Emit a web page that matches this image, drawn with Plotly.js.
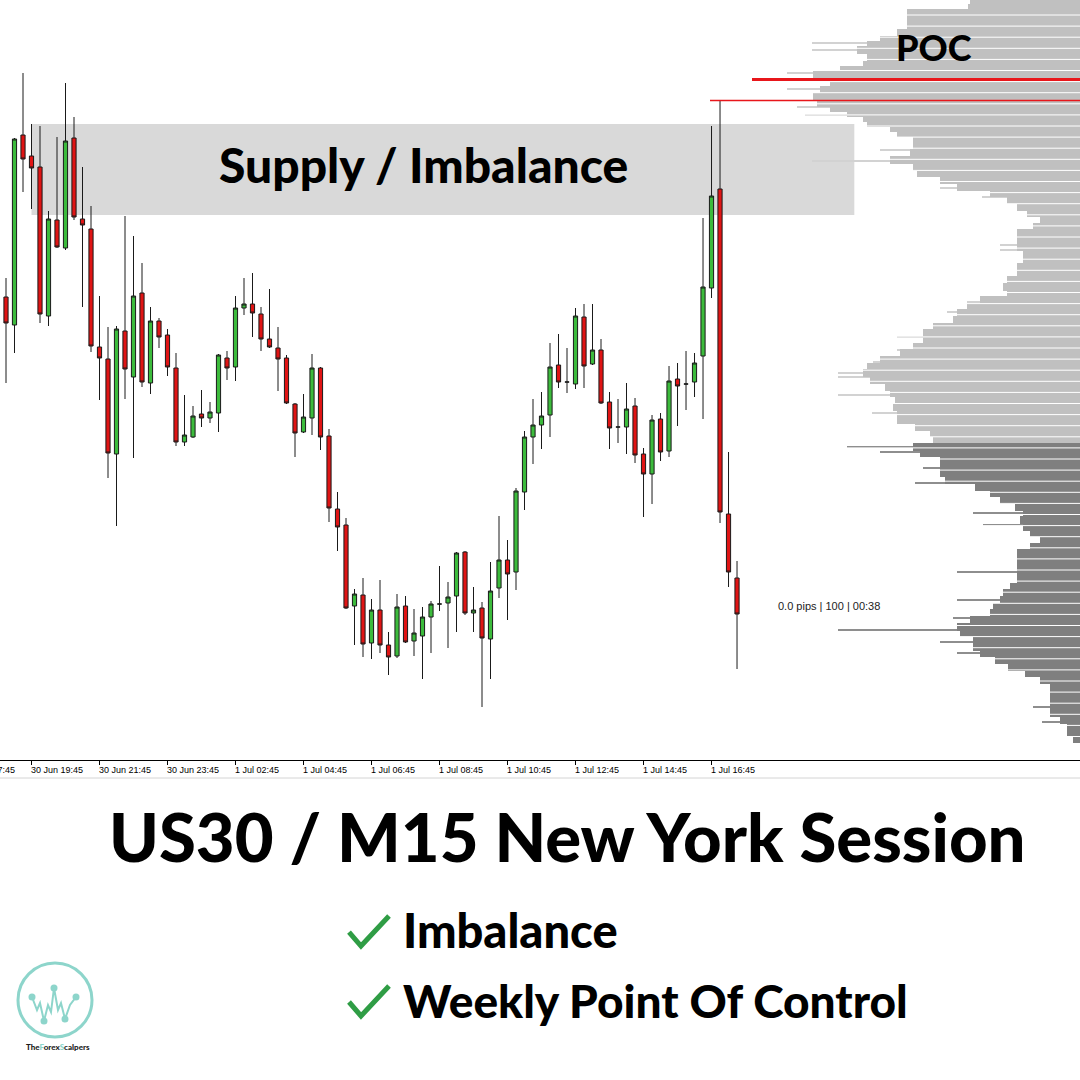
<!DOCTYPE html>
<html><head><meta charset="utf-8">
<script src="https://cdn.plot.ly/plotly-3.0.1.min.js"></script>
<style>html,body{margin:0;padding:0;background:#fff}#chart{width:1080px;height:1080px}</style>
</head><body><div id="chart"></div>
<script>
// ---- US30 M15 candles (30 Jun 19:00 -> 1 Jul 17:30) ----
const open = [34703,34675,34865,34844,34833,34684,34780,34752,34862,34781,
34771,34653,34641,34546,34669,34623,34707,34617,34679,34665,
34632,34558,34563,34586,34582,34587,34642,34633,34692,34696,
34686,34661,34652,34642,34596,34568,34582,34632,34564,34491,
34475,34394,34405,34357,34390,34355,34344,34394,34359,34364,
34383,34396,34397,34404,34448,34387,34392,34361,34412,34440,
34428,34508,34563,34575,34585,34635,34618,34616,34683,34636,
34650,34598,34573,34573,34594,34546,34526,34581,34549,34621,
34616,34618,34644,34712,34811,34486,34422];
const high = [34722,34862,34927,34876,34874,34789,34863,34917,34883,34833,
34794,34704,34673,34674,34784,34764,34737,34693,34682,34671,
34647,34605,34594,34610,34598,34646,34649,34704,34722,34727,
34693,34711,34673,34645,34597,34606,34646,34633,34571,34508,
34482,34411,34422,34401,34420,34368,34406,34404,34391,34393,
34399,34434,34418,34448,34449,34413,34398,34438,34484,34460,
34512,34569,34601,34608,34657,34666,34652,34692,34696,34696,
34661,34608,34601,34617,34602,34552,34585,34587,34634,34637,
34649,34647,34782,34874,34900,34548,34439];
const low = [34617,34647,34808,34791,34677,34674,34752,34750,34780,34693,
34648,34600,34522,34474,34601,34542,34613,34606,34652,34624,
34554,34554,34562,34573,34577,34568,34620,34619,34685,34663,
34649,34652,34609,34596,34543,34567,34565,34550,34478,34449,
34391,34355,34343,34341,34347,34325,34342,34357,34344,34321,
34347,34389,34352,34368,34385,34368,34293,34321,34402,34380,
34410,34490,34536,34551,34563,34612,34607,34611,34612,34635,
34596,34551,34557,34546,34537,34483,34496,34539,34543,34574,
34590,34603,34581,34702,34477,34413,34331];
const close = [34677,34861,34841,34832,34686,34781,34753,34859,34783,34775,
34654,34642,34547,34671,34631,34704,34618,34679,34663,34633,
34558,34565,34584,34582,34588,34645,34632,34692,34696,34687,
34661,34653,34641,34597,34567,34583,34632,34563,34492,34473,
34392,34406,34356,34390,34355,34343,34393,34358,34367,34383,
34396,34396,34403,34447,34387,34390,34362,34409,34440,34426,
34509,34563,34575,34584,34633,34618,34618,34684,34634,34650,
34597,34572,34573,34591,34545,34526,34580,34548,34619,34614,
34616,34637,34713,34804,34488,34428,34386];

// x-axis time labels (bar index -> label)
const tickIdx  = [-5, 3, 11, 19, 27, 35, 43, 51, 59, 67, 75, 83];
const tickText = ['30 Jun 17:45','30 Jun 19:45','30 Jun 21:45','30 Jun 23:45','1 Jul 02:45','1 Jul 04:45',
                  '1 Jul 06:45','1 Jul 08:45','1 Jul 10:45','1 Jul 12:45','1 Jul 14:45','1 Jul 16:45'];

// ---- Volume profile (price level -> volume) ----
const vpUpperPrice = [34996,34992,34987,34982,34977,34972,34967,34960,34955,34950,34945,34940,34935,34930,34925,34917,34910,34903,34897,34892,34887,34882,34877,34872,34867,34860,34853,34847,34840,34833,34827,34820,34813,34807,34800,34793,34787,34780,34773,34767,34760,34753,34747,34740,34733,34727,34720,34713,34707,34700,34693,34687,34680,34673,34667,34660,34653,34647,34640,34633,34627,34620,34613,34607,34600,34593,34587,34580,34573,34567,34560];
const vpUpperVol   = [110,112,173,173,173,173,183,200,213,223,213,213,217,240,267,250,260,267,263,250,233,217,213,190,183,167,167,170,190,167,163,140,123,90,73,63,53,40,47,63,63,63,57,57,63,63,73,77,73,100,113,123,127,147,157,157,167,180,200,213,217,210,195,190,185,187,183,183,165,150,147];
const vpLowerPrice = [34553,34547,34540,34533,34527,34520,34513,34507,34500,34493,34487,34480,34473,34467,34460,34453,34447,34440,34433,34427,34420,34413,34407,34400,34393,34387,34380,34373,34367,34360,34353,34347,34340,34333,34327,34320,34313,34307,34300,34293,34287,34280,34273,34267,34261];
const vpLowerVol   = [167,160,140,140,140,135,105,90,80,65,57,60,57,50,40,50,63,63,63,63,63,70,77,80,87,90,110,123,120,107,107,100,85,72,55,40,30,30,30,30,30,20,13,13,7];
// thin single-tick extensions
const vpUpperTickPrice = [34957,34950,34927,34911,34893,34885,34850,34839,34812,34803,34755,34750,34698,34688,34663,34650,34638,34627,34623,34605,34587];
const vpUpperTickVol   = [268,268,293,293,283,275,200,268,140,98,80,80,113,133,183,183,207,242,242,242,208];
const vpLowerTickPrice = [34553,34548,34532,34517,34487,34475,34428,34400,34382,34370,34358,34347,34293,34278];
const vpLowerTickVol   = [233,200,157,165,107,97,123,123,127,242,140,123,47,38];

const pocPrice = 34920.5;
const sweepBar = 84;               // bar whose high is marked with the thin red line
const supplyZone = {fromBar: 3, toBar: 99.8, top: 34876, bottom: 34785};
const lastInfo = '0.0 pips | 100 | 00:38';

// ---- layout helpers ----
const W = 1080, H = 1080, M = {l: 0, r: 0, t: 0, b: 320};
const xRange = [-0.706, 126.35];
const px = X => (X - M.l) / (W - M.l - M.r);
const py = Y => (H - M.b - Y) / (H - M.t - M.b);
const barToPaper = i => (i - xRange[0]) / (xRange[1] - xRange[0]);
const pathFrom = pts => pts.map((p, i) => (i ? 'L' : 'M') + px(p[0]).toFixed(5) + ',' + py(p[1]).toFixed(5)).join(' ');

const barIdx = open.map((_, i) => i);
const sweepHigh = high[sweepBar];

const traces = [
  {type: 'candlestick', x: barIdx, open, high, low, close, xaxis: 'x', yaxis: 'y',
   increasing: {line: {color: '#1a1a1a', width: 1}, fillcolor: '#3cbb3c'},
   decreasing: {line: {color: '#1a1a1a', width: 1}, fillcolor: '#e01414'},
   whiskerwidth: 0, hoverinfo: 'skip', showlegend: false},
  {type: 'bar', orientation: 'h', x: vpUpperTickVol, y: vpUpperTickPrice, width: 1.4, xaxis: 'x2', yaxis: 'y',
   marker: {color: '#d2d2d2', line: {width: 0}}, showlegend: false, hoverinfo: 'skip'},
  {type: 'bar', orientation: 'h', x: vpLowerTickVol, y: vpLowerTickPrice, width: 1.4, xaxis: 'x2', yaxis: 'y',
   marker: {color: '#8e8e8e', line: {width: 0}}, showlegend: false, hoverinfo: 'skip'},
  {type: 'bar', orientation: 'h', x: vpUpperVol, y: vpUpperPrice, width: 7.6, xaxis: 'x2', yaxis: 'y',
   marker: {color: '#c0c0c0', line: {width: 0}}, showlegend: false, hoverinfo: 'skip'},
  {type: 'bar', orientation: 'h', x: vpLowerVol, y: vpLowerPrice, width: 7.6, xaxis: 'x2', yaxis: 'y',
   marker: {color: '#7f7f7f', line: {width: 0}}, showlegend: false, hoverinfo: 'skip'}
];

const shapes = [];
shapes.push({type: 'rect', layer: 'below', xref: 'x', yref: 'y', x0: supplyZone.fromBar, x1: supplyZone.toBar,
  y0: supplyZone.bottom, y1: supplyZone.top, fillcolor: '#d9d9d9', line: {width: 0}});
// white separators of the profile
for (let Y = 15; Y < 742; Y += 11.1) {
  const x0 = (Y > 122 && Y < 217) ? 856 : 745;
  shapes.push({type: 'line', xref: 'paper', yref: 'paper', x0: px(x0), x1: 1, y0: py(Y), y1: py(Y),
    line: {color: '#ffffff', width: 1}});
}
shapes.push({type: 'line', xref: 'paper', yref: 'y', x0: px(752), x1: 1, y0: pocPrice, y1: pocPrice, line: {color: '#e8161b', width: 3}});
shapes.push({type: 'line', xref: 'paper', yref: 'y', x0: px(710), x1: 1, y0: sweepHigh - 0.5, y1: sweepHigh - 0.5, line: {color: '#e8161b', width: 1.5}});
shapes.push({type: 'line', xref: 'paper', yref: 'paper', x0: 0, x1: 1, y0: py(778), y1: py(778), line: {color: '#d4d4d4', width: 1}});
// check marks
[[0, 0], [0, 70]].forEach(o => {
  shapes.push({type: 'path', xref: 'paper', yref: 'paper',
    path: pathFrom([[349, 932 + o[1]], [361, 946 + o[1]], [389, 916 + o[1]]]),
    line: {color: '#2f9d45', width: 5}});
});
// logo
const teal = '#8dd5cb';
shapes.push({type: 'circle', xref: 'paper', yref: 'paper', x0: px(18), x1: px(92), y0: py(1037), y1: py(963), line: {color: teal, width: 3}});
shapes.push({type: 'path', xref: 'paper', yref: 'paper',
  path: pathFrom([[32, 997], [37, 1010], [40, 1003], [44, 1021], [48, 1005], [51, 1012], [54, 988], [58, 1010], [61, 1003], [65, 1019], [70, 1005], [76, 997]]),
  line: {color: teal, width: 2}});
[[32, 997], [54, 988], [76, 997], [44, 1021], [65, 1019]].forEach(p => {
  shapes.push({type: 'circle', xref: 'paper', yref: 'paper', x0: px(p[0] - 3.5), x1: px(p[0] + 3.5), y0: py(p[1] + 3.5), y1: py(p[1] - 3.5),
    fillcolor: teal, line: {width: 0}});
});

const bold = (size, color) => ({family: 'Lato, "Open Sans", sans-serif', size, color: color || '#000', weight: 900});
const note = (X, Y, text, font, xanchor) => ({xref: 'paper', yref: 'paper', x: px(X), y: py(Y), text, font,
  showarrow: false, xanchor: xanchor || 'center', yanchor: 'middle', borderpad: 0, borderwidth: 0});
const annotations = [];
tickIdx.forEach((t, k) => annotations.push({xref: 'paper', yref: 'paper', x: barToPaper(t), y: py(770), xanchor: 'left', yanchor: 'middle', xshift: -1,
  borderpad: 0, borderwidth: 0,
  text: tickText[k], showarrow: false, font: {family: 'Liberation Sans, Arial, sans-serif', size: 9, color: '#000'}}));
annotations.push(note(423, 165, 'Supply / Imbalance', bold(48)));
annotations.push(note(934, 47, 'POC', bold(36)));
annotations.push(note(778, 606, lastInfo, {family: 'Liberation Sans, Arial, sans-serif', size: 11, color: '#222'}, 'left'));
annotations.push(note(567, 836, 'US30 / M15 New York Session', bold(67)));
annotations.push(note(403, 930, 'Imbalance', bold(47), 'left'));
annotations.push(note(403, 1000, 'Weekly Point Of Control', bold(46), 'left'));
annotations.push(note(58, 1047,
  'The<span style="color:' + teal + '">F</span>orex<span style="color:' + teal + '">S</span>calpers',
  {family: 'Lato, sans-serif', size: 8, color: '#1a1a1a', weight: 900}));

const layout = {
  width: W, height: H, margin: M, paper_bgcolor: '#fff', plot_bgcolor: '#fff',
  showlegend: false, hovermode: false, barmode: 'overlay', bargap: 0,
  xaxis: {range: xRange, showgrid: false, zeroline: false, showline: true, linecolor: '#000', linewidth: 1,
          ticks: 'outside', ticklen: 4, tickcolor: '#000', tickvals: tickIdx, showticklabels: false,
          rangeslider: {visible: false}, fixedrange: true},
  xaxis2: {overlaying: 'x', range: [1080, 0], visible: false, fixedrange: true},
  yaxis: {range: [34240, 35000], visible: false, showgrid: false, zeroline: false, fixedrange: true},
  shapes, annotations
};
Plotly.newPlot('chart', traces, layout, {staticPlot: true, displayModeBar: false});
</script></body></html>
